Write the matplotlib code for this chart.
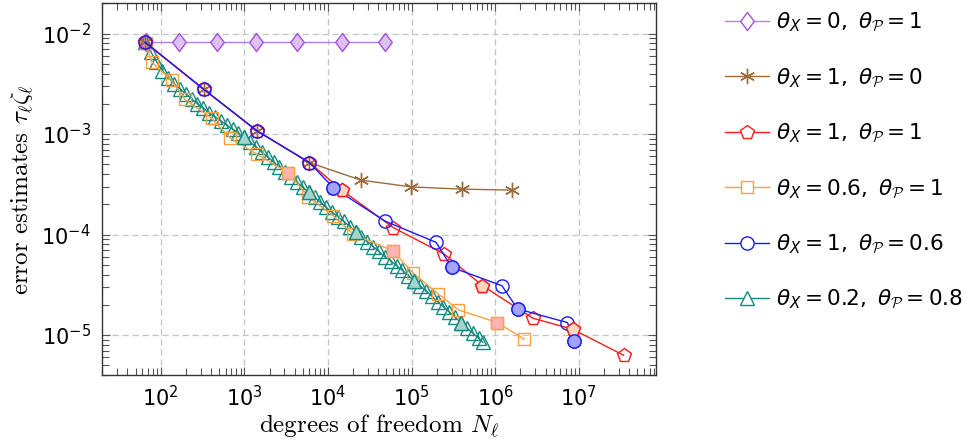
import matplotlib
matplotlib.use('Agg')
import matplotlib.pyplot as plt
from matplotlib.lines import Line2D
from matplotlib.path import Path

# theta_X = 0, theta_P = 1
dof_a = [66, 167, 467, 1380, 4300, 14600, 48200]
est_a = [8.2e-3, 8.2e-3, 8.2e-3, 8.2e-3, 8.2e-3, 8.2e-3, 8.2e-3]

# theta_X = 1, theta_P = 0
dof_b = [65, 325, 1430, 6000, 24700, 98700, 398000, 1580000]
est_b = [8.2e-3, 2.8e-3, 1.07e-3, 5.2e-4, 3.48e-4, 2.98e-4, 2.83e-4, 2.77e-4]

# theta_X = 1, theta_P = 1
dof_c = [65, 325, 1430, 6000, 14600, 60600, 245000, 703000, 2820000, 8470000, 34200000]
est_c = [8.2e-3, 2.8e-3, 1.07e-3, 5.2e-4, 2.77e-4, 1.17e-4, 6.4e-5, 3.1e-5, 1.47e-5, 1.14e-5, 6.3e-6]
fill_c = [4, 7, 9]

# theta_X = 0.6, theta_P = 1
dof_d = [66, 78, 135, 195, 407, 675, 1406, 3360, 5830, 11600, 20100, 59600,
         105000, 209000, 363000, 1060000, 2220000]
est_d = [8.1e-3, 5.2e-3, 3.43e-3, 2.21e-3, 1.43e-3, 9.16e-4, 6.3e-4, 4.11e-4, 2.38e-4,
         1.53e-4, 1.01e-4, 6.9e-5, 4.11e-5, 2.56e-5, 1.78e-5, 1.33e-5, 9.1e-6]
fill_d = [7, 11, 15]

# theta_X = 1, theta_P = 0.6
dof_e = [65, 325, 1430, 6000, 11600, 48200, 196000, 302000, 1200000, 1850000, 7300000, 8850000]
est_e = [8.2e-3, 2.8e-3, 1.07e-3, 5.2e-4, 2.92e-4, 1.36e-4, 8.36e-5, 4.72e-5, 3.1e-5,
         1.82e-5, 1.33e-5, 8.8e-6]
fill_e = [4, 7, 9, 11]

# theta_X = 0.2, theta_P = 0.8
dof_f = [65, 76, 89, 105, 123, 145, 170, 200, 234, 275, 324, 380, 447, 525, 617, 724,
         851, 1000, 1175, 1380, 1622, 1905, 2239, 2630, 3090, 3631, 4266, 5012, 5888,
         6918, 8128, 9550, 11220, 13180, 15490, 18200, 21380, 25120, 29510, 34670,
         40740, 47860, 56230, 66070, 77620, 91200, 107200, 125900, 147900, 173800,
         204200, 239900, 281800, 331100, 389000, 457100, 537000, 631000, 708000]
est_f = [8.32e-3, 6.61e-3, 5.25e-3, 4.27e-3, 3.63e-3, 3.16e-3, 2.82e-3, 2.51e-3, 2.24e-3,
         2.0e-3, 1.82e-3, 1.62e-3, 1.48e-3, 1.35e-3, 1.23e-3, 1.12e-3, 1.02e-3, 9.3e-4,
         8.3e-4, 7.4e-4, 6.6e-4, 5.9e-4, 5.25e-4, 4.68e-4, 4.17e-4, 3.72e-4, 3.31e-4,
         2.95e-4, 2.63e-4, 2.34e-4, 2.09e-4, 1.86e-4, 1.66e-4, 1.51e-4, 1.35e-4, 1.2e-4,
         1.07e-4, 9.5e-5, 8.5e-5, 7.6e-5, 6.8e-5, 6.0e-5, 5.5e-5, 4.9e-5, 4.4e-5, 3.9e-5,
         3.47e-5, 3.09e-5, 2.75e-5, 2.45e-5, 2.14e-5, 1.91e-5, 1.7e-5, 1.51e-5, 1.32e-5,
         1.17e-5, 1.05e-5, 9.3e-6, 8.5e-6]
fill_f = [17, 28, 36, 46, 54]

labels = [r'$\theta_X = 0,\ \theta_{\mathcal{P}} = 1$',
          r'$\theta_X = 1,\ \theta_{\mathcal{P}} = 0$',
          r'$\theta_X = 1,\ \theta_{\mathcal{P}} = 1$',
          r'$\theta_X = 0.6,\ \theta_{\mathcal{P}} = 1$',
          r'$\theta_X = 1,\ \theta_{\mathcal{P}} = 0.6$',
          r'$\theta_X = 0.2,\ \theta_{\mathcal{P}} = 0.8$']

plt.rcParams['font.family'] = ['DejaVu Sans']
plt.rcParams['mathtext.fontset'] = 'custom'
plt.rcParams['mathtext.rm'] = 'DejaVu Sans'
plt.rcParams['mathtext.it'] = 'DejaVu Sans:italic'
plt.rcParams['mathtext.bf'] = 'DejaVu Sans:bold'
plt.rcParams['mathtext.sf'] = 'DejaVu Sans'
plt.rcParams['mathtext.cal'] = 'cmsy10'

fig = plt.figure(figsize=(9.79, 4.48), dpi=100)
ax = fig.add_axes([0.1039, 0.1629, 0.5659, 0.8297])
ax.set_xscale('log')
ax.set_yscale('log')

purple = '#a64fd9'
brown = '#9c6b3c'
red = '#ff1a1a'
orange = '#ffa040'
blue = '#1a1aff'
teal = '#138a80'

# pgfplots-style diamond: taller than wide
diamond = Path([(0, 1), (0.75, 0), (0, -1), (-0.75, 0), (0, 1)],
               [Path.MOVETO, Path.LINETO, Path.LINETO, Path.LINETO, Path.CLOSEPOLY])


def series(x, y, color, marker, ms, mfc, filled=(), fillc=None, lc=None, z=3):
    ax.plot(x, y, color=lc or color, lw=1.0, zorder=z)
    ax.plot(x, y, ls='none', marker=marker, ms=ms, mec=color, mfc=mfc, mew=1.0, zorder=z)
    if filled:
        ax.plot([x[i] for i in filled], [y[i] for i in filled], ls='none', marker=marker,
                ms=ms, mec=color, mfc=fillc, mew=1.0, zorder=z + 0.1)


series(dof_a, est_a, purple, diamond, 13, '#dcc2f2', lc='#b57de6')
series(dof_f, est_f, teal, '^', 9.5, 'none', fill_f, '#a6d4cc')
series(dof_d, est_d, orange, 's', 8.5, 'none', fill_d, '#ffb3b3')
series(dof_b, est_b, brown, (6, 2, 0), 11, 'none')
series(dof_c, est_c, red, 'p', 10, 'none', fill_c, '#ffd6bf')
series(dof_e, est_e, blue, 'o', 9.5, 'none', fill_e, '#a3a3f7')

ax.set_xlim(19.7, 8.3e7)
ax.set_ylim(4.0e-6, 2.0e-2)
ax.set_xticks([1e2, 1e3, 1e4, 1e5, 1e6, 1e7])
ax.set_yticks([1e-5, 1e-4, 1e-3, 1e-2])
ax.tick_params(which='both', direction='in', top=True, right=True, labelsize=15,
               color='#555555')
ax.tick_params(which='major', length=6, width=0.8)
ax.tick_params(which='minor', length=5, width=0.8)
ax.tick_params(axis='x', pad=7)
ax.tick_params(axis='y', pad=8)
ax.grid(True, which='major', color='#c4c4c4', ls=(0, (5, 3)), lw=0.9)
ax.set_axisbelow(True)
for s in ax.spines.values():
    s.set_color('#333333')
    s.set_linewidth(1.0)

ax.set_xlabel(r'degrees of freedom $N_\ell$', fontsize=18, family='cmr10',
              math_fontfamily='cm', labelpad=2)
ax.set_ylabel(r'error estimates $\tau_\ell\zeta_\ell$', fontsize=18, family='cmr10',
              math_fontfamily='cm', labelpad=4)

handles = [
    Line2D([], [], color='#b57de6', marker=diamond, ms=13, mec=purple, mfc='white', lw=1.0),
    Line2D([], [], color=brown, marker=(6, 2, 0), ms=11, mec=brown, lw=1.0),
    Line2D([], [], color=red, marker='p', ms=10, mec=red, mfc='white', lw=1.0),
    Line2D([], [], color=orange, marker='s', ms=8.5, mec=orange, mfc='white', lw=1.0),
    Line2D([], [], color=blue, marker='o', ms=9.5, mec=blue, mfc='white', lw=1.0),
    Line2D([], [], color=teal, marker='^', ms=9.5, mec=teal, mfc='white', lw=1.0),
]
fig.legend(handles, labels, loc='upper left', bbox_to_anchor=(0.7405, 0.975), frameon=False,
           fontsize=15.5, handlelength=2.05, handletextpad=0.33, labelspacing=1.5,
           borderaxespad=0.0, borderpad=0.0)

fig.savefig('out.png', dpi=100)
